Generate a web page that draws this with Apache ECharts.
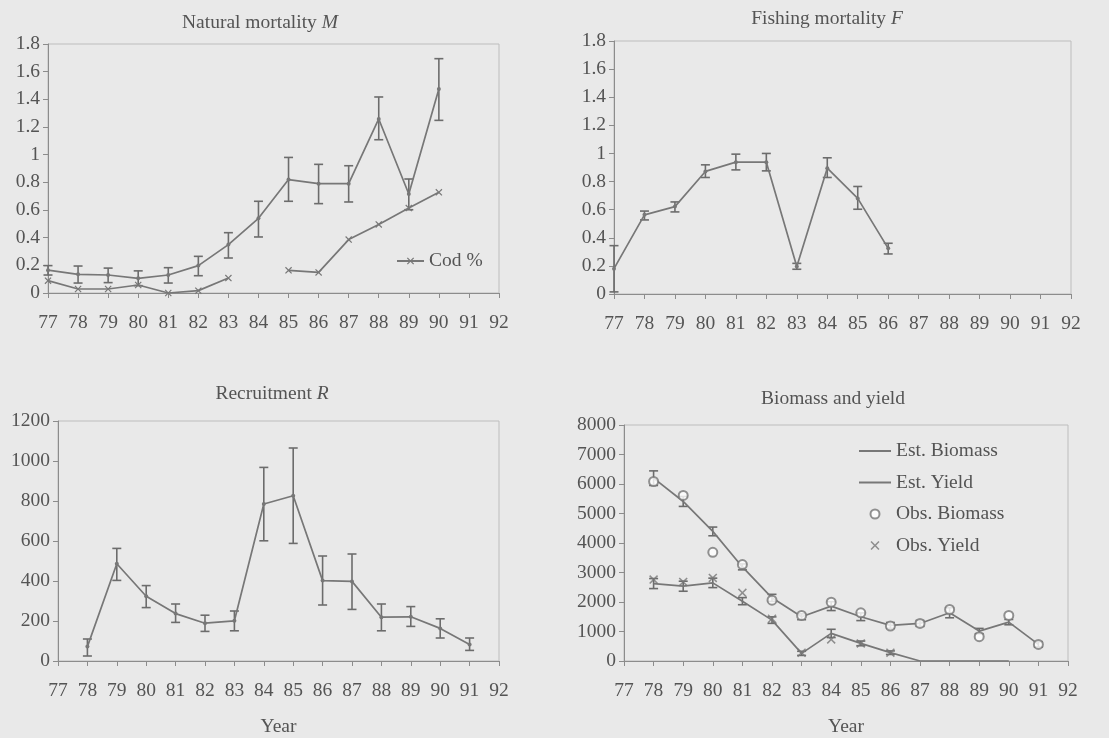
<!DOCTYPE html>
<html>
<head>
<meta charset="utf-8">
<script src="https://cdn.jsdelivr.net/npm/echarts@6/dist/echarts.min.js"></script>
<style>
html,body{margin:0;padding:0;background:#e9e9e9;}
#c{width:1109px;height:738px;}
</style>
</head>
<body>
<div id="c"></div>
<script>
// ---------- DATA ----------
const years = [77,78,79,80,81,82,83,84,85,86,87,88,89,90,91,92];

// Natural mortality M (77..90)
const mYears = [77,78,79,80,81,82,83,84,85,86,87,88,89,90];
const mValue = [0.165,0.135,0.13,0.106,0.13,0.198,0.35,0.54,0.82,0.79,0.79,1.258,0.716,1.475];
const mLow   = [0.13,0.072,0.075,0.053,0.072,0.125,0.253,0.405,0.663,0.646,0.658,1.108,0.602,1.248];
const mHigh  = [0.198,0.195,0.18,0.16,0.183,0.265,0.436,0.663,0.98,0.93,0.92,1.417,0.824,1.694];

// Cod % (null = gap)
const codYears = [77,78,79,80,81,82,83,84,85,86,87,88,89,90];
const codValue = [0.089,0.029,0.029,0.058,0,0.017,0.108,null,0.164,0.149,0.386,0.496,0.614,0.728];

// Fishing mortality F (77..86)
const fYears = [77,78,79,80,81,82,83,84,85,86];
const fValue = [0.18,0.563,0.622,0.872,0.938,0.938,0.195,0.895,0.68,0.325];
const fLow   = [0.015,0.527,0.584,0.829,0.883,0.876,0.176,0.829,0.603,0.285];
const fHigh  = [0.344,0.59,0.655,0.919,0.995,1.0,0.218,0.969,0.765,0.361];

// Recruitment R (78..91)
const rYears = [78,79,80,81,82,83,84,85,86,87,88,89,90,91];
const rValue = [72,486,324,237,189,201,785,826,402,398,219,221,163,82];
const rLow   = [25,403,267,193,148,151,601,588,280,258,151,173,115,53];
const rHigh  = [110,563,377,285,229,250,968,1065,525,535,285,272,211,115];

// Biomass and yield
const bYears    = [78,79,80,81,82,83,84,85,86,87,88,89,90,91];
const estBiomass = [6197,5408,4394,3189,2141,1499,1859,1499,1206,1273,1634,1014,1318,563];
const estBioLow  = [5950,5240,4245,3090,2020,1400,1710,1370,1106,1173,1465,925,1228,473];
const estBioHigh = [6445,5577,4540,3290,2260,1600,2010,1630,1306,1373,1805,1105,1408,653];
const obsBiomass = [6085,5611,3685,3268,2062,1544,1994,1634,1183,1273,1746,823,1544,563];

const yYears   = [78,79,80,81,82,83,84,85,86,87,88,89,90];
const estYield = [2625,2535,2648,2028,1386,259,935,597,282,0,0,0,0];
const errYYears = [78,79,80,81,82,83,84,85,86];
const estYLow  = [2455,2365,2488,1908,1276,189,795,517,222];
const estYHigh = [2795,2705,2808,2148,1496,329,1075,677,342];
const obsYYears = [78,79,80,81,82,83,84,85,86];
const obsYield = [2761,2682,2817,2310,1431,282,732,597,282];

// ---------- STYLE ----------
const FONT = 'Liberation Serif';
const FS = 19.5;
const TXT = '#545454';
const LINE = '#777777';
const BAR = '#6c6c6c';
const AX = '#8c8c8c';

const pairs = (xs, ys) => xs.map((x, i) => [x, ys[i] === null ? '-' : ys[i]]);
const triples = (xs, lo, hi) => xs.map((x, i) => [x, lo[i], hi[i]]);

function errBar(params, api) {
  const x = api.value(0), lo = api.value(1), hi = api.value(2);
  const a = api.coord([x, lo]), b = api.coord([x, hi]);
  const w = 4.5;
  const st = {stroke: BAR, lineWidth: 1.6};
  return {type: 'group', children: [
    {type: 'line', shape: {x1: a[0], y1: a[1], x2: b[0], y2: b[1]}, style: st},
    {type: 'line', shape: {x1: a[0]-w, y1: a[1], x2: a[0]+w, y2: a[1]}, style: st},
    {type: 'line', shape: {x1: b[0]-w, y1: b[1], x2: b[0]+w, y2: b[1]}, style: st}
  ]};
}
function errSeries(idx, data) {
  return {type: 'custom', xAxisIndex: idx, yAxisIndex: idx, renderItem: errBar,
    encode: {x: 0, y: [1, 2]}, data: data, z: 3, silent: true};
}

const xSymbol = 'path://M0,1.2 L1.2,0 L5,3.8 L8.8,0 L10,1.2 L6.2,5 L10,8.8 L8.8,10 L5,6.2 L1.2,10 L0,8.8 L3.8,5 Z';

const grids = [
  {left: 48, top: 44, width: 451, height: 249},
  {left: 614, top: 41, width: 457, height: 253},
  {left: 58, top: 421, width: 441, height: 243},
  {left: 624, top: 425, width: 444, height: 237}
].map(g => Object.assign(g, {show: true, borderColor: '#bdbdbd', borderWidth: 1, backgroundColor: 'transparent'}));

function xAx(i, withName) {
  const o = {gridIndex: i, type: 'value', min: 77, max: 92, interval: 1,
    axisLine: {show: true, onZero: false, lineStyle: {color: AX, width: 1}},
    axisTick: {show: true, length: 5, lineStyle: {color: AX}},
    splitLine: {show: false},
    axisLabel: {fontFamily: FONT, fontSize: FS, color: TXT, margin: 20}};
  if (withName) {
    o.name = 'Year'; o.nameLocation = 'middle'; o.nameGap = 56;
    o.nameTextStyle = {fontFamily: FONT, fontSize: FS, color: TXT};
  }
  return o;
}
function yAx(i, max, interval, fmt) {
  return {gridIndex: i, type: 'value', min: 0, max: max, interval: interval,
    axisLine: {show: true, lineStyle: {color: AX, width: 1}},
    axisTick: {show: true, length: 5, lineStyle: {color: AX}},
    splitLine: {show: false},
    axisLabel: {fontFamily: FONT, fontSize: FS, color: TXT, margin: 8, formatter: fmt}};
}
const dec = v => String(+v.toFixed(1));
const plain = v => String(Math.round(v));

const titleStyle = {fontFamily: FONT, fontSize: FS, fontWeight: 'normal', color: TXT,
  rich: {i: {fontFamily: FONT, fontSize: FS, fontStyle: 'italic', color: TXT}}};
const legText = {fontFamily: FONT, fontSize: FS, color: TXT};

const option = {
  backgroundColor: '#e9e9e9',
  animation: false,
  title: [
    {text: 'Natural mortality {i|M}', left: 260, top: 13, textAlign: 'center', padding: 0, textStyle: titleStyle},
    {text: 'Fishing mortality {i|F}', left: 827, top: 9, textAlign: 'center', padding: 0, textStyle: titleStyle},
    {text: 'Recruitment {i|R}', left: 272, top: 384, textAlign: 'center', padding: 0, textStyle: titleStyle},
    {text: 'Biomass and yield', left: 833, top: 389, textAlign: 'center', padding: 0, textStyle: titleStyle}
  ],
  legend: [
    {data: ['Cod %'], left: 396, top: 251, itemWidth: 27, itemHeight: 9, padding: 0, textStyle: legText},
    {data: [
        {name: 'Est. Biomass', itemStyle: {opacity: 0}},
        {name: 'Est. Yield', itemStyle: {opacity: 0}},
        'Obs. Biomass', 'Obs. Yield'],
      orient: 'vertical', left: 858, top: 441, itemWidth: 32, itemHeight: 9, itemGap: 11.5, padding: 0,
      textStyle: legText}
  ],
  grid: grids,
  xAxis: [xAx(0, false), xAx(1, false), xAx(2, true), xAx(3, true)],
  yAxis: [yAx(0, 1.8, 0.2, dec), yAx(1, 1.8, 0.2, dec), yAx(2, 1200, 200, plain), yAx(3, 8000, 1000, plain)],
  series: [
    // Panel 1
    {name: 'M', type: 'line', xAxisIndex: 0, yAxisIndex: 0, data: pairs(mYears, mValue),
      symbol: 'circle', symbolSize: 4, lineStyle: {color: LINE, width: 1.7}, itemStyle: {color: LINE}, z: 4},
    errSeries(0, triples(mYears, mLow, mHigh)),
    {name: 'Cod %', type: 'line', xAxisIndex: 0, yAxisIndex: 0, data: pairs(codYears, codValue),
      connectNulls: false, symbol: xSymbol, symbolSize: 7, showAllSymbol: true,
      lineStyle: {color: LINE, width: 1.7}, itemStyle: {color: LINE}, z: 4},
    // Panel 2
    {name: 'F', type: 'line', xAxisIndex: 1, yAxisIndex: 1, data: pairs(fYears, fValue),
      symbol: 'circle', symbolSize: 4, lineStyle: {color: LINE, width: 1.7}, itemStyle: {color: LINE}, z: 4},
    errSeries(1, triples(fYears, fLow, fHigh)),
    // Panel 3
    {name: 'R', type: 'line', xAxisIndex: 2, yAxisIndex: 2, data: pairs(rYears, rValue),
      symbol: 'circle', symbolSize: 4, lineStyle: {color: LINE, width: 1.7}, itemStyle: {color: LINE}, z: 4},
    errSeries(2, triples(rYears, rLow, rHigh)),
    // Panel 4
    {name: 'Est. Biomass', type: 'line', xAxisIndex: 3, yAxisIndex: 3, data: pairs(bYears, estBiomass),
      symbol: 'none', lineStyle: {color: LINE, width: 1.7}, itemStyle: {color: LINE}, z: 4},
    errSeries(3, triples(bYears, estBioLow, estBioHigh)),
    {name: 'Est. Yield', type: 'line', xAxisIndex: 3, yAxisIndex: 3, data: pairs(yYears, estYield),
      symbol: 'none', lineStyle: {color: LINE, width: 1.7}, itemStyle: {color: LINE}, z: 4},
    errSeries(3, triples(errYYears, estYLow, estYHigh)),
    {name: 'Obs. Biomass', type: 'scatter', xAxisIndex: 3, yAxisIndex: 3, data: pairs(bYears, obsBiomass),
      symbol: 'emptyCircle', symbolSize: 9, itemStyle: {color: LINE, borderColor: LINE, borderWidth: 1.5}, z: 5},
    {name: 'Obs. Yield', type: 'scatter', xAxisIndex: 3, yAxisIndex: 3, data: pairs(obsYYears, obsYield),
      symbol: xSymbol, symbolSize: 9, itemStyle: {color: LINE}, z: 5}
  ]
};

const chart = echarts.init(document.getElementById('c'), null, {renderer: 'canvas'});
chart.setOption(option);
</script>
</body>
</html>
